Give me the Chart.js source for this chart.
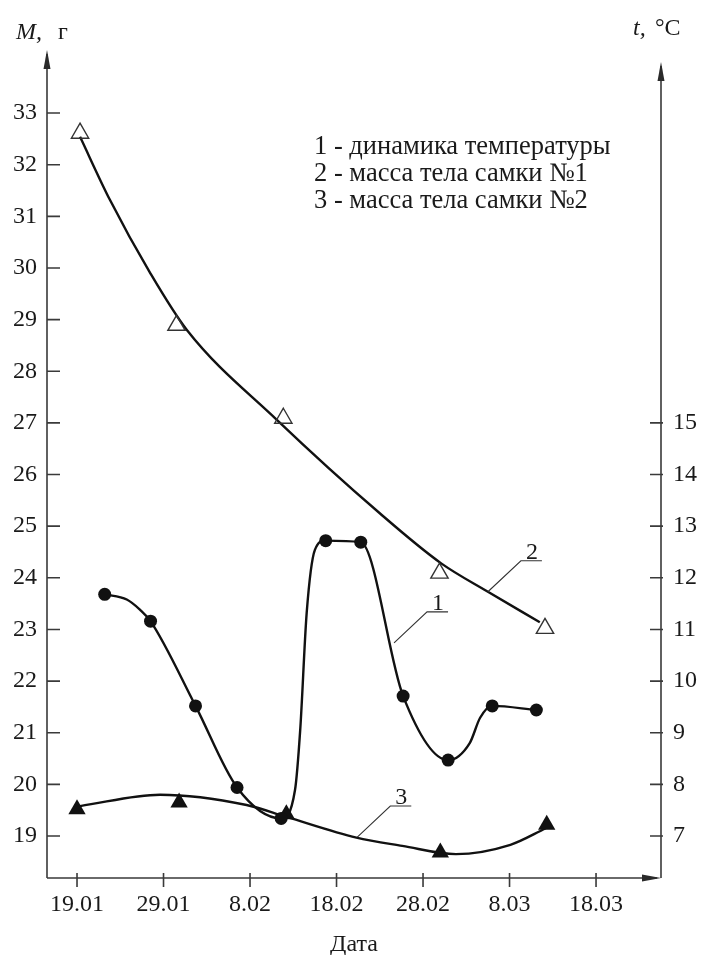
<!DOCTYPE html>
<html>
<head>
<meta charset="utf-8">
<script src="https://cdn.jsdelivr.net/npm/chart.js@4.4.1/dist/chart.umd.min.js"></script>
<style>
  html, body { margin: 0; padding: 0; background: #fff; }
  #wrap { width: 701px; height: 955px; position: relative; }
</style>
</head>
<body>
<div id="wrap"><canvas id="chart"></canvas></div>
<script>
// дни от 19.01, шаг подписей 10 дней
const dateLabels = ['19.01', '29.01', '8.02', '18.02', '28.02', '8.03', '18.03'];

// 1 - температура (точки замеров)
const tempDays = [3.2, 8.5, 13.7, 18.5, 23.6, 28.75, 32.8, 37.7, 42.9, 48.0, 53.1];
const tempValues = [11.68, 11.16, 9.52, 7.94, 7.34, 12.72, 12.69, 9.71, 8.47, 9.52, 9.44];
// кривая температуры
const tempCurveDays = [3.2, 5.75, 7.3, 8.5, 13.7, 18.5, 23.6, 25.2, 25.8, 26.55, 27.5, 28.75, 32.8, 37.7, 42.9, 45.4, 46.6, 48.0, 53.1];
const tempCurveValues = [11.68, 11.58, 11.38, 11.16, 9.52, 7.94, 7.34, 7.89, 9.05, 11.32, 12.54, 12.72, 12.69, 9.71, 8.47, 8.80, 9.29, 9.52, 9.44];

// 2 - масса самки №1
const mass1Days = [0.35, 11.5, 23.85, 41.9, 54.1];
const mass1Values = [32.61, 28.89, 27.09, 24.09, 23.02];
const mass1TrendDays = [0.35, 3.8, 8.4, 12.7, 23.1, 35.0, 42.1, 47.5, 53.5];
const mass1TrendValues = [32.54, 31.32, 29.92, 28.80, 27.06, 25.25, 24.28, 23.73, 23.14];

// 3 - масса самки №2
const mass2Days = [0, 11.8, 24.2, 42.0, 54.3];
const mass2Values = [19.52, 19.65, 19.42, 18.68, 19.22];
const mass2TrendDays = [0.35, 9.6, 19.6, 24.2, 32.3, 37.6, 43.8, 50.1, 54.2];
const mass2TrendValues = [19.58, 19.80, 19.60, 19.37, 18.97, 18.81, 18.65, 18.83, 19.15];

const seriesNames = ['динамика температуры', 'масса тела самки №1', 'масса тела самки №2'];

const serif = "'Liberation Serif', 'Times New Roman', serif";
const ink = '#1a1a1a';

const toPoints = (xs, ys) => xs.map((x, i) => ({ x: x, y: ys[i] }));

function arrow(ctx, x, y, dir) {
    // dir: 'up' или 'right'
    ctx.beginPath();
    if (dir === 'up') {
        ctx.moveTo(x, y);
        ctx.lineTo(x - 3.5, y + 19);
        ctx.lineTo(x + 3.5, y + 19);
    } else {
        ctx.moveTo(x, y);
        ctx.lineTo(x - 19, y - 3.5);
        ctx.lineTo(x - 19, y + 3.5);
    }
    ctx.closePath();
    ctx.fill();
}

// оси, стрелки, засечки, подписи и выноски
const axesPlugin = {
    id: 'axesPlugin',
    afterDraw(chart) {
        const { ctx, chartArea: a, scales } = chart;
        const x = scales.x, yM = scales.yM, yT = scales.yT;
        ctx.save();
        ctx.strokeStyle = '#3a3a3a';
        ctx.fillStyle = '#2a2a2a';
        ctx.lineWidth = 1.6;

        ctx.beginPath();
        ctx.moveTo(a.left, a.bottom);
        ctx.lineTo(a.left, a.top + 4);
        ctx.moveTo(a.left, a.bottom);
        ctx.lineTo(a.right - 4, a.bottom);
        ctx.moveTo(a.right, a.bottom);
        ctx.lineTo(a.right, a.top + 16);
        ctx.stroke();
        arrow(ctx, a.left, a.top, 'up');
        arrow(ctx, a.right, a.top + 12, 'up');
        arrow(ctx, a.right, a.bottom, 'right');

        // засечки
        ctx.beginPath();
        yM.ticks.forEach(t => {
            if (t.value > 33) return;
            const py = yM.getPixelForValue(t.value);
            ctx.moveTo(a.left, py);
            ctx.lineTo(a.left + 13, py);
        });
        yT.ticks.forEach(t => {
            if (t.value > 15) return;
            const py = yT.getPixelForValue(t.value);
            ctx.moveTo(a.right - 11, py);
            ctx.lineTo(a.right + 2, py);
        });
        x.ticks.forEach(t => {
            const px = x.getPixelForValue(t.value);
            ctx.moveTo(px, a.bottom - 5);
            ctx.lineTo(px, a.bottom + 9);
        });
        ctx.stroke();

        // подписи осей
        ctx.fillStyle = ink;
        ctx.textBaseline = 'alphabetic';
        ctx.textAlign = 'left';
        ctx.font = 'italic 24px ' + serif;
        ctx.fillText('M,', 16, 39);
        ctx.font = '24px ' + serif;
        ctx.fillText('г', 58, 39);
        ctx.font = 'italic 24px ' + serif;
        ctx.fillText('t,', 633, 35);
        ctx.font = '24px ' + serif;
        ctx.fillText('°C', 655, 35);

        ctx.textAlign = 'center';
        ctx.font = '24px ' + serif;
        ctx.fillText('Дата', (a.left + a.right) / 2, 951);

        // легенда
        ctx.textAlign = 'left';
        ctx.textBaseline = 'middle';
        ctx.font = '26.5px ' + serif;
        seriesNames.forEach((name, i) => {
            ctx.fillText((i + 1) + ' - ' + name, a.left + 267, a.top + 97 + i * 27);
        });

        // выноски с номерами кривых
        const callouts = [
            { n: '1', scale: yT, day: 36.65, value: 10.74 },
            { n: '2', scale: yM, day: 47.5, value: 23.73 },
            { n: '3', scale: yM, day: 32.4, value: 18.98 },
        ];
        ctx.strokeStyle = '#333';
        ctx.lineWidth = 1.1;
        ctx.font = '24px ' + serif;
        ctx.textAlign = 'center';
        ctx.textBaseline = 'alphabetic';
        callouts.forEach(c => {
            const px = x.getPixelForValue(c.day);
            const py = c.scale.getPixelForValue(c.value);
            const ex = px + 33, ey = py - 31;
            ctx.beginPath();
            ctx.moveTo(px, py);
            ctx.lineTo(ex, ey);
            ctx.lineTo(ex + 21, ey);
            ctx.stroke();
            ctx.fillText(c.n, ex + 11, ey - 2);
        });
        ctx.restore();
    }
};

const curve = (days, values, axis) => ({
    data: toPoints(days, values),
    yAxisID: axis,
    borderColor: '#111',
    borderWidth: 2.4,
    cubicInterpolationMode: 'monotone',
    pointRadius: 0,
    pointHoverRadius: 0,
});

const ctx = document.getElementById('chart').getContext('2d');

const chart = new Chart(ctx, {
    type: 'line',
    data: {
        datasets: [
            {
                label: seriesNames[0],
                data: toPoints(tempDays, tempValues),
                yAxisID: 'yT',
                showLine: false,
                pointStyle: 'circle',
                pointRadius: 6.5,
                pointBackgroundColor: '#111',
                pointBorderColor: '#111',
                pointBorderWidth: 0,
            },
            {
                label: seriesNames[1],
                data: toPoints(mass1Days, mass1Values),
                yAxisID: 'yM',
                showLine: false,
                pointStyle: 'triangle',
                pointRadius: 10,
                pointBackgroundColor: 'rgba(255,255,255,0)',
                pointBorderColor: '#333',
                pointBorderWidth: 1.4,
            },
            {
                label: seriesNames[2],
                data: toPoints(mass2Days, mass2Values),
                yAxisID: 'yM',
                showLine: false,
                pointStyle: 'triangle',
                pointRadius: 10,
                pointBackgroundColor: '#111',
                pointBorderColor: '#111',
                pointBorderWidth: 0,
            },
            Object.assign({ label: 'кривая 1' }, curve(tempCurveDays, tempCurveValues, 'yT')),
            Object.assign({ label: 'кривая 2' }, curve(mass1TrendDays, mass1TrendValues, 'yM')),
            Object.assign({ label: 'кривая 3' }, curve(mass2TrendDays, mass2TrendValues, 'yM')),
        ]
    },
    options: {
        responsive: true,
        maintainAspectRatio: false,
        animation: false,
        layout: { padding: { top: 50, left: 0, right: 0, bottom: 0 } },
        plugins: {
            legend: { display: false },
            tooltip: { enabled: false },
        },
        scales: {
            x: {
                type: 'linear',
                min: -3.47,
                max: 67.51,
                grid: { display: false, drawTicks: false },
                border: { display: false },
                afterFit: (scale) => { scale.height = 77; },
                ticks: {
                    stepSize: 10,
                    includeBounds: false,
                    autoSkip: false,
                    maxRotation: 0,
                    padding: 12,
                    color: ink,
                    font: { family: serif, size: 24 },
                    callback: (v) => {
                        const i = Math.round(v / 10);
                        return (Math.abs(v - i * 10) < 0.01 && i >= 0 && i < dateLabels.length) ? dateLabels[i] : '';
                    }
                }
            },
            yM: {
                type: 'linear',
                position: 'left',
                min: 18.187,
                max: 34.221,
                grid: { display: false, drawTicks: false },
                border: { display: false },
                afterFit: (scale) => { scale.width = 47; },
                ticks: {
                    stepSize: 1,
                    includeBounds: false,
                    padding: 10,
                    color: ink,
                    font: { family: serif, size: 24 },
                    callback: (v) => (v >= 19 && v <= 33 ? String(v) : '')
                }
            },
            yT: {
                type: 'linear',
                position: 'right',
                min: 6.187,
                max: 22.221,
                grid: { display: false, drawTicks: false },
                border: { display: false },
                afterFit: (scale) => { scale.width = 40; },
                ticks: {
                    stepSize: 1,
                    includeBounds: false,
                    padding: 12,
                    color: ink,
                    font: { family: serif, size: 24 },
                    callback: (v) => (v >= 7 && v <= 15 ? String(v) : '')
                }
            }
        }
    },
    plugins: [axesPlugin]
});
</script>
</body>
</html>
